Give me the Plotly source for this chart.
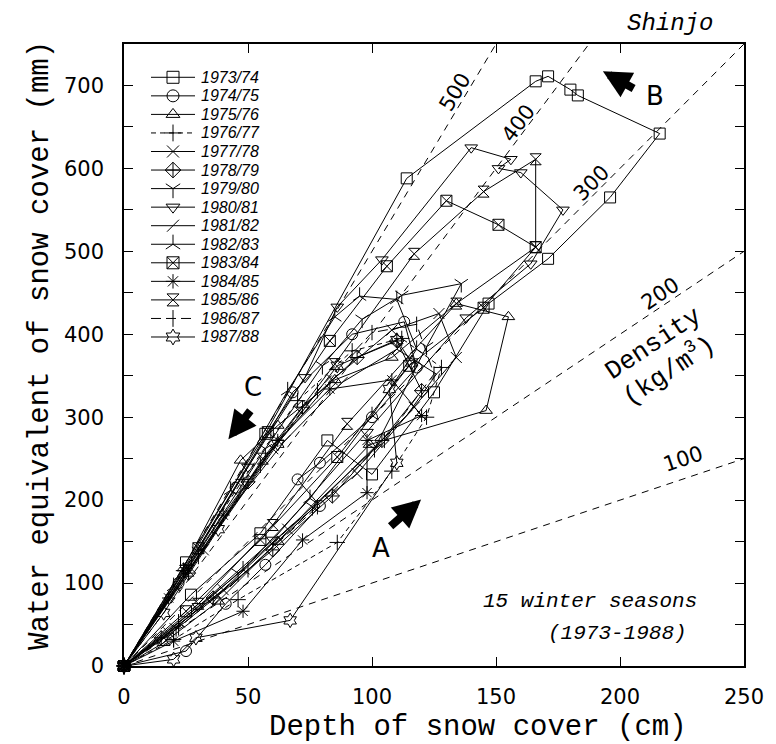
import math
import plotly.graph_objects as go

# ---------------- data (depth cm, water equivalent mm) ----------------
seasons = ["1973/74", "1974/75", "1975/76", "1976/77", "1977/78", "1978/79",
           "1979/80", "1980/81", "1981/82", "1982/83", "1983/84", "1984/85",
           "1985/86", "1986/87", "1987/88"]

d7374 = [0, 27, 55, 82, 100, 125, 147, 171, 196, 216, 183, 180, 171, 166, 114, 57, 25, 0]
w7374 = [0, 86, 160, 272, 231, 330, 437, 491, 565, 642, 688, 695, 711, 705, 588, 280, 125, 0]

d7475 = [0, 25, 41, 57, 79, 70, 79, 100, 118, 113, 92, 68, 45, 22, 0]
w7475 = [0, 18, 75, 122, 193, 225, 245, 300, 360, 415, 400, 330, 215, 100, 0]

d7576 = [0, 16, 38, 62, 99, 146, 155, 134, 108, 85, 62, 47, 24, 0]
w7576 = [0, 28, 78, 150, 267, 308, 421, 437, 372, 345, 290, 248, 118, 0]

d7677 = [0, 20, 46, 86, 108, 122, 128, 112, 92, 70, 48, 24, 0]
w7677 = [0, 32, 80, 149, 235, 300, 360, 395, 380, 320, 225, 115, 0]

d7778 = [0, 18, 40, 66, 94, 117, 134, 127, 108, 84, 60, 32, 0]
w7778 = [0, 40, 92, 165, 232, 312, 372, 425, 405, 345, 262, 140, 0]

d7879 = [0, 15, 36, 60, 84, 104, 120, 110, 94, 72, 50, 26, 0]
w7879 = [0, 34, 82, 140, 205, 272, 332, 392, 372, 312, 222, 112, 0]

d7980 = [0, 21, 46, 76, 101, 122, 136, 112, 96, 80, 57, 30, 0]
w7980 = [0, 46, 112, 192, 262, 385, 461, 447, 418, 362, 262, 138, 0]

d8081 = [0, 30, 60, 98, 138, 164, 177, 160, 151, 156, 140, 104, 86, 73, 50, 25, 0]
w8081 = [0, 72, 152, 282, 420, 485, 550, 595, 600, 611, 625, 490, 433, 348, 240, 118, 0]

d8182 = [0, 20, 45, 70, 95, 114, 126, 110, 88, 65, 40, 18, 0]
w8182 = [0, 42, 102, 172, 246, 302, 352, 382, 342, 272, 178, 80, 0]

d8283 = [0, 22, 48, 75, 100, 118, 110, 95, 85, 66, 43, 20, 0]
w8283 = [0, 52, 116, 202, 302, 382, 442, 446, 421, 332, 212, 96, 0]

d8384 = [0, 25, 55, 86, 115, 145, 166, 151, 130, 106, 83, 58, 30, 0]
w8384 = [0, 66, 152, 252, 362, 432, 505, 532, 561, 482, 392, 282, 142, 0]

d8485 = [0, 20, 48, 72, 98, 98, 120, 108, 83, 62, 40, 18, 0]
w8485 = [0, 30, 66, 152, 209, 272, 302, 345, 334, 272, 182, 82, 0]

d8586 = [0, 30, 60, 90, 134, 166, 166, 145, 117, 85, 56, 26, 0]
w8586 = [0, 75, 170, 292, 437, 505, 611, 572, 497, 364, 250, 115, 0]

d8687 = [0, 22, 50, 78, 105, 125, 118, 100, 78, 55, 30, 0]
w8687 = [0, 46, 116, 192, 272, 352, 412, 402, 332, 242, 132, 0]

d8788 = [0, 20, 29, 67, 110, 107, 116, 110, 86, 62, 38, 16, 0]
w8788 = [0, 8, 34, 55, 245, 334, 366, 393, 362, 268, 165, 64, 0]

depths = [d7374, d7475, d7576, d7677, d7778, d7879, d7980, d8081,
          d8182, d8283, d8384, d8485, d8586, d8687, d8788]
swes = [w7374, w7475, w7576, w7677, w7778, w7879, w7980, w8081,
        w8182, w8283, w8384, w8485, w8586, w8687, w8788]

densities = [100, 200, 300, 400, 500]   # kg/m3 reference lines
x_ticks = [0, 50, 100, 150, 200, 250]
y_ticks = [0, 100, 200, 300, 400, 500, 600, 700]

# ---------------- styles ----------------
symbols = ["square-open", "circle-open", "triangle-up-open", "cross-thin-open",
           "x-thin-open", "diamond-cross-open", "y-down-open", "triangle-down-open",
           "line-ne-open", "y-up-open", "square-x-open", "asterisk-open",
           "hourglass-open", "line-ns-open", "hexagram-open"]
dashes = ["solid"] * 15
dashes[3] = "5px,4px"
dashes[13] = "10px,5px"

X_MAX, Y_MAX = 250, 750
W, H = 776, 744
ML, MR, MT, MB = 116, 40, 36, 86
PW, PH = W - ML - MR, H - MT - MB

fig = go.Figure()

# density reference lines
for d in densities:
    xe = min(X_MAX, Y_MAX / (d / 100.0))
    fig.add_trace(go.Scatter(x=[0, xe], y=[0, xe * d / 100.0], mode="lines",
                             line=dict(color="black", width=1, dash="7px,6px"),
                             showlegend=False, hoverinfo="skip"))

for name, xs, ys, sym, dsh in zip(seasons, depths, swes, symbols, dashes):
    fig.add_trace(go.Scatter(
        x=xs, y=ys, name=name, mode="lines+markers",
        line=dict(color="black", width=1, dash=dsh),
        marker=dict(symbol=sym, size=11, color="black",
                    line=dict(color="black", width=1)),
        cliponaxis=False, showlegend=False))

# ---------------- hand-built legend on an auxiliary axis pair ----------------
# each season is one legend row (row index = position in 'seasons')
for i, (name, sym, dsh) in enumerate(zip(seasons, symbols, dashes)):
    fig.add_trace(go.Scatter(
        x=[0, 1, 2], y=[i, i, i], mode="lines", xaxis="x2", yaxis="y2",
        line=dict(color="black", width=1, dash=dsh),
        showlegend=False, hoverinfo="skip", cliponaxis=False))
    fig.add_trace(go.Scatter(
        x=[1], y=[i], mode="markers", xaxis="x2", yaxis="y2",
        marker=dict(symbol=sym, size=12, color="black",
                    line=dict(color="black", width=1)),
        showlegend=False, hoverinfo="skip", cliponaxis=False))
    fig.add_annotation(x=2, y=i, xref="x2", yref="y2", text=name,
                       showarrow=False, xanchor="left", yanchor="middle",
                       xshift=4,
                       font=dict(family="Liberation Sans Narrow, Liberation Sans",
                                 size=16, color="black", style="italic"))

# ---------------- annotations ----------------
def ang(d):
    slope = (d / 100.0) * (PH / Y_MAX) / (PW / X_MAX)
    return -math.degrees(math.atan(slope))

num_font = dict(family="DejaVu Sans", size=21, color="black")
mono_font = dict(family="Liberation Mono", size=26, color="black")

label_pos = {500: (133.5, 692), 400: (159, 655), 300: (188.5, 583),
             200: (216, 449), 100: (225.5, 250)}
for d, (lx, ly) in label_pos.items():
    fig.add_annotation(x=lx, y=ly, text=str(d), showarrow=False,
                       textangle=ang(d), font=num_font)

fig.add_annotation(x=213.4, y=388, text="Density", showarrow=False,
                   textangle=ang(200), font=mono_font)
fig.add_annotation(x=219.4, y=357, text="(kg/m<sup>3</sup>)", showarrow=False,
                   textangle=ang(200), font=mono_font)

# process arrows (A accumulation, B compaction, C melt)
arrows = [((106.9, 166.9), (119.8, 200.7), "A", (103.6, 142.7)),
          ((206.1, 695.3), (193.1, 717.0), "B", (214.2, 686.8)),
          ((51.4, 309.6), (42.1, 273.3), "C", (52.1, 336.0))]
for (tx, ty), (hx, hy), lab, (lx, ly) in arrows:
    fig.add_annotation(x=hx, y=hy, ax=tx, ay=ty, xref="x", yref="y",
                       axref="x", ayref="y", text="", showarrow=True,
                       arrowhead=2, arrowsize=0.7, arrowwidth=8,
                       arrowcolor="black")
    fig.add_annotation(x=lx, y=ly, text=lab, showarrow=False,
                       font=dict(family="DejaVu Sans", size=26, color="black"))

ital = dict(family="Liberation Mono", size=21, color="black", style="italic")
fig.add_annotation(xref="paper", yref="paper", x=0.927, y=0.1045,
                   text="15 winter seasons", showarrow=False,
                   xanchor="right", yanchor="middle", font=ital)
fig.add_annotation(xref="paper", yref="paper", x=0.911, y=0.053,
                   text="(1973-1988)", showarrow=False,
                   xanchor="right", yanchor="middle", font=ital)
fig.add_annotation(xref="paper", yref="paper", x=(662 - ML) / PW,
                   y=((H - MB) - 15) / PH,
                   text="Shinjo", showarrow=False,
                   xanchor="center", yanchor="middle",
                   font=dict(family="Liberation Mono", size=24, color="black",
                             style="italic"))

# axis titles as annotations (placed as in the reference)
title_font = dict(family="Liberation Mono", size=29, color="black")
fig.add_annotation(xref="paper", yref="paper", x=(470 - ML) / PW,
                   y=-(719 - (H - MB)) / PH, text="Depth of snow cover (cm)",
                   showarrow=False, xanchor="center", yanchor="middle",
                   font=title_font)
fig.add_annotation(xref="paper", yref="paper", x=(32 - ML) / PW,
                   y=((H - MB) - 338) / PH,
                   text="Water equivalent of snow cover (mm)", textangle=-90,
                   showarrow=False, xanchor="center", yanchor="middle",
                   font=title_font)

axis_common = dict(showline=True, linecolor="black", linewidth=1.6,
                   mirror="ticks", ticks="inside", ticklen=9, tickwidth=1.2,
                   tickcolor="black", showgrid=False, zeroline=False,
                   tickfont=num_font, automargin=False)

fig.update_xaxes(range=[0, X_MAX], tickvals=x_ticks, ticklabelstandoff=11,
                 **axis_common)
fig.update_yaxes(range=[0, Y_MAX], tickvals=y_ticks,
                 minor=dict(dtick=50, ticks="inside", ticklen=9, tickwidth=1.2,
                            tickcolor="black", showgrid=False),
                 ticklabelstandoff=14, **axis_common)

# auxiliary axes for the legend block (top-left inside the frame)
leg_x0, leg_x1 = (143 - ML) / PW, (187 - ML) / PW
row_top, row_bot = 69.3, 329.0
half = (row_bot - row_top) / (len(seasons) - 1) / 2
leg_y1 = ((H - MB) - (row_top - half)) / PH
leg_y0 = ((H - MB) - (row_bot + half)) / PH

fig.update_layout(
    width=W, height=H,
    margin=dict(l=ML, r=MR, t=MT, b=MB, autoexpand=False),
    paper_bgcolor="white", plot_bgcolor="white",
    showlegend=False,
    xaxis2=dict(domain=[leg_x0, leg_x1], range=[0, 2], anchor="y2",
                visible=False, fixedrange=True),
    yaxis2=dict(domain=[leg_y0, leg_y1],
                range=[len(seasons) - 0.5, -0.5], anchor="x2",
                visible=False, fixedrange=True),
)

fig.write_html("out.html")
